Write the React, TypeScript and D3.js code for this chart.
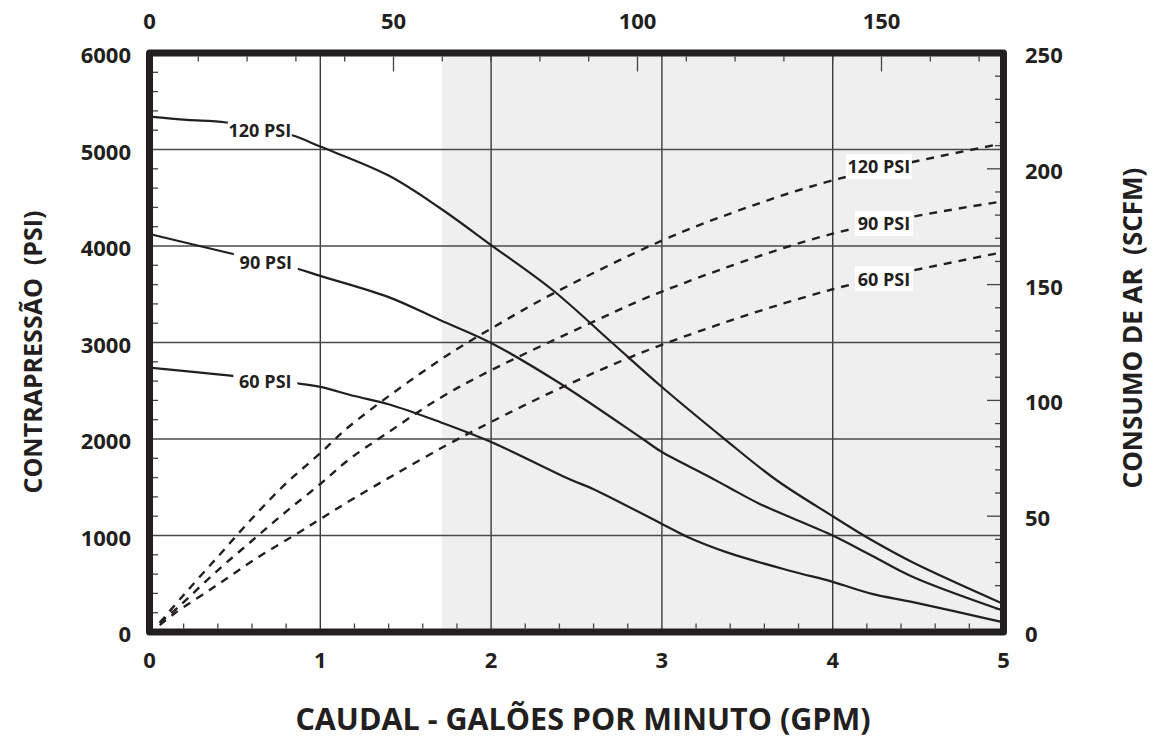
import React from "react";
import * as d3 from "d3";

// ---- data ----
const gpmTicks = [0, 1, 2, 3, 4, 5];
const psiTicks = [0, 1000, 2000, 3000, 4000, 5000, 6000];
const scfmTicks = [0, 50, 100, 150, 200, 250];
const lpmTicks = [0, 50, 100, 150];

const seriesNames = ["120 PSI", "90 PSI", "60 PSI"];

// Back pressure (PSI) vs flow (GPM)
const pressure120: [number, number][] = [
  [0, 5340], [0.22, 5306], [0.45, 5280], [0.83, 5150], [1.0, 5030], [1.4, 4730],
  [1.7, 4394], [2.0, 4010], [2.36, 3544], [2.71, 2995], [3.0, 2539], [3.36, 2010],
  [3.67, 1575], [4.0, 1200], [4.23, 950], [4.47, 720], [5.0, 290],
];
const pressure90: [number, number][] = [
  [0, 4124], [0.49, 3917], [0.85, 3772], [1.0, 3690], [1.4, 3470], [1.7, 3233],
  [2.0, 2995], [2.4, 2580], [2.88, 2010], [3.0, 1865], [3.26, 1625], [3.39, 1500],
  [3.57, 1330], [4.0, 1000], [4.23, 790], [4.47, 570], [5.0, 220],
];
const pressure60: [number, number][] = [
  [0, 2740], [0.4, 2670], [0.85, 2580], [1.0, 2540], [1.2, 2445], [1.4, 2360],
  [1.7, 2176], [2.0, 1969], [2.47, 1575], [2.6, 1480], [3.0, 1120], [3.15, 985],
  [3.39, 820], [3.76, 630], [4.0, 520], [4.23, 395], [4.47, 310], [5.0, 100],
];

// Air consumption (SCFM) vs flow (GPM)
const air120: [number, number][] = [
  [0.06, 4], [0.2, 16], [0.4, 32.5], [0.6, 49], [0.8, 64.2], [1.0, 77.2], [1.18, 89.4],
  [1.7, 117.4], [2.0, 131], [2.36, 146], [3.0, 169], [3.45, 182], [4.0, 195], [5.0, 211],
];
const air90: [number, number][] = [
  [0.06, 4], [0.16, 10.2], [0.39, 26], [0.6, 39.4], [0.8, 52], [1.0, 63.9], [1.17, 74.6],
  [1.39, 85.8], [1.7, 101], [2.0, 113], [2.6, 134], [3.0, 147], [4.0, 172], [5.0, 186],
];
const air60: [number, number][] = [
  [0.06, 3], [0.15, 8.2], [0.39, 20], [0.63, 32], [0.88, 43.2], [1.02, 49.7], [1.19, 57.4],
  [1.44, 68.2], [1.74, 80.7], [2.0, 90.7], [2.42, 105.8], [3.0, 124], [4.0, 148], [5.0, 164],
];

const pressureSeries = [pressure120, pressure90, pressure60];
const airSeries = [air120, air90, air60];

const shadeStartGpm = 1.713;

export default function App() {
  const W = 1160, H = 753;
  const left = 149.5, right = 1003.5, top = 53, bottom = 632;
  const x = d3.scaleLinear().domain([0, 5]).range([left, right]);
  const xTop = d3.scaleLinear().domain([0, 175]).range([left, right]);
  const y = d3.scaleLinear().domain([0, 6000]).range([bottom, top]);
  const yR = d3.scaleLinear().domain([0, 250]).range([bottom, top]);

  const ink = "#231f20";
  const font = "'Open Sans', 'Noto Sans', sans-serif";

  const curve = d3.curveCatmullRom.alpha(0.5);
  const lineP = d3.line<[number, number]>().x(d => x(d[0])).y(d => y(d[1])).curve(curve);
  const lineA = d3.line<[number, number]>().x(d => x(d[0])).y(d => yR(d[1])).curve(curve);

  const bw = 7;
  const inL = left + bw / 2, inR = right - bw / 2, inT = top + bw / 2, inB = bottom - bw / 2;

  const bottomMinor = d3.range(0.2, 5, 0.2).filter(v => Math.abs(v - Math.round(v)) > 0.01);
  const leftMinor = d3.range(200, 6000, 200).filter(v => v % 1000 !== 0);
  const topTicks = d3.range(10, 175, 10);
  const rightTicks = d3.range(10, 250, 10);

  // label anchors in data coordinates
  const solidLabels = [
    { gx: 0.646, v: 5197 },
    { gx: 0.681, v: 3839 },
    { gx: 0.678, v: 2596 },
  ];
  const dashLabels = [
    { gx: 4.27, v: 201, w: 66 },
    { gx: 4.30, v: 176.4, w: 58 },
    { gx: 4.30, v: 152.6, w: 58 },
  ];

  return (
    <svg width={W} height={H} style={{ position: "absolute", left: 0, top: 0, background: "#fff" }}
      fontFamily={font} fontWeight={700} fill={ink}>
      <rect x={0} y={0} width={W} height={H} fill="#fff" />
      {/* shaded zone */}
      <rect x={x(shadeStartGpm)} y={top} width={right - x(shadeStartGpm)} height={bottom - top} fill="#efefef" />

      {/* grid */}
      {[1, 2, 3, 4].map(v => (
        <line key={"gv" + v} x1={x(v)} x2={x(v)} y1={top} y2={bottom} stroke="#3a3a3a" strokeWidth={1.4} />
      ))}
      {[1000, 2000, 3000, 4000, 5000].map(v => (
        <line key={"gh" + v} x1={left} x2={right} y1={y(v)} y2={y(v)} stroke="#4a4a4a" strokeWidth={1.4} />
      ))}

      {/* minor ticks */}
      {bottomMinor.map((v, i) => (
        <line key={"bt" + i} x1={x(v)} x2={x(v)} y1={inB} y2={inB - 5} stroke="#444" strokeWidth={1.3} />
      ))}
      {leftMinor.map((v, i) => (
        <line key={"lt" + i} x1={inL} x2={inL + 5} y1={y(v)} y2={y(v)} stroke="#444" strokeWidth={1.3} />
      ))}
      {topTicks.map((v, i) => (
        <line key={"tt" + i} x1={xTop(v)} x2={xTop(v)} y1={inT} y2={inT + (v % 50 === 0 ? 15 : 5)} stroke="#444" strokeWidth={1.3} />
      ))}
      {rightTicks.map((v, i) => (
        <line key={"rt" + i} x1={inR} x2={inR - (v % 50 === 0 ? 13 : 5)} y1={yR(v)} y2={yR(v)} stroke="#444" strokeWidth={1.3} />
      ))}

      {/* air consumption (dashed) */}
      {airSeries.map((s, i) => (
        <path key={"a" + i} d={lineA(s) || ""} fill="none" stroke={ink} strokeWidth={2.4} strokeDasharray="8 7" />
      ))}
      {/* back pressure (solid) */}
      {pressureSeries.map((s, i) => (
        <path key={"p" + i} d={lineP(s) || ""} fill="none" stroke={ink} strokeWidth={2.2} />
      ))}

      {/* solid labels */}
      {solidLabels.map((l, i) => (
        <g key={"sl" + i}>
          <rect x={x(l.gx) - 32} y={y(l.v) - 9} width={64} height={18} fill="#fff" />
          <text x={x(l.gx)} y={y(l.v)} textAnchor="middle" dominantBaseline="central" fontSize={18}>{seriesNames[i]}</text>
        </g>
      ))}
      {/* dashed labels */}
      {dashLabels.map((l, i) => (
        <g key={"dl" + i}>
          <rect x={x(l.gx) - l.w / 2} y={yR(l.v) - 12.5} width={l.w} height={25} fill="#fff" />
          <text x={x(l.gx)} y={yR(l.v)} textAnchor="middle" dominantBaseline="central" fontSize={18}>{seriesNames[i]}</text>
        </g>
      ))}

      {/* frame */}
      <rect x={left} y={top} width={right - left} height={bottom - top} fill="none" stroke={ink} strokeWidth={bw} strokeLinejoin="round" />

      {/* tick labels */}
      {psiTicks.map(v => (
        <text key={"pl" + v} x={131} y={y(v) + 1} textAnchor="end" dominantBaseline="central" fontSize={22}>{v}</text>
      ))}
      {scfmTicks.map(v => (
        <text key={"sl2" + v} x={1025} y={yR(v) + 1} textAnchor="start" dominantBaseline="central" fontSize={22}>{v}</text>
      ))}
      {gpmTicks.map(v => (
        <text key={"gl" + v} x={x(v)} y={659} textAnchor="middle" dominantBaseline="central" fontSize={22}>{v}</text>
      ))}
      {lpmTicks.map(v => (
        <text key={"ll" + v} x={xTop(v)} y={20} textAnchor="middle" dominantBaseline="central" fontSize={22}>{v}</text>
      ))}

      {/* axis titles */}
      <text x={583} y={718} textAnchor="middle" dominantBaseline="central" fontSize={30.5}>CAUDAL - GALÕES POR MINUTO (GPM)</text>
      <text transform="translate(32,352) rotate(-90)" textAnchor="middle" dominantBaseline="central" fontSize={25} style={{ whiteSpace: "pre" }}>{"CONTRAPRESSÃO  (PSI)"}</text>
      <text transform="translate(1132,328) rotate(-90)" textAnchor="middle" dominantBaseline="central" fontSize={26} style={{ whiteSpace: "pre" }}>{"CONSUMO DE AR  (SCFM)"}</text>
    </svg>
  );
}
